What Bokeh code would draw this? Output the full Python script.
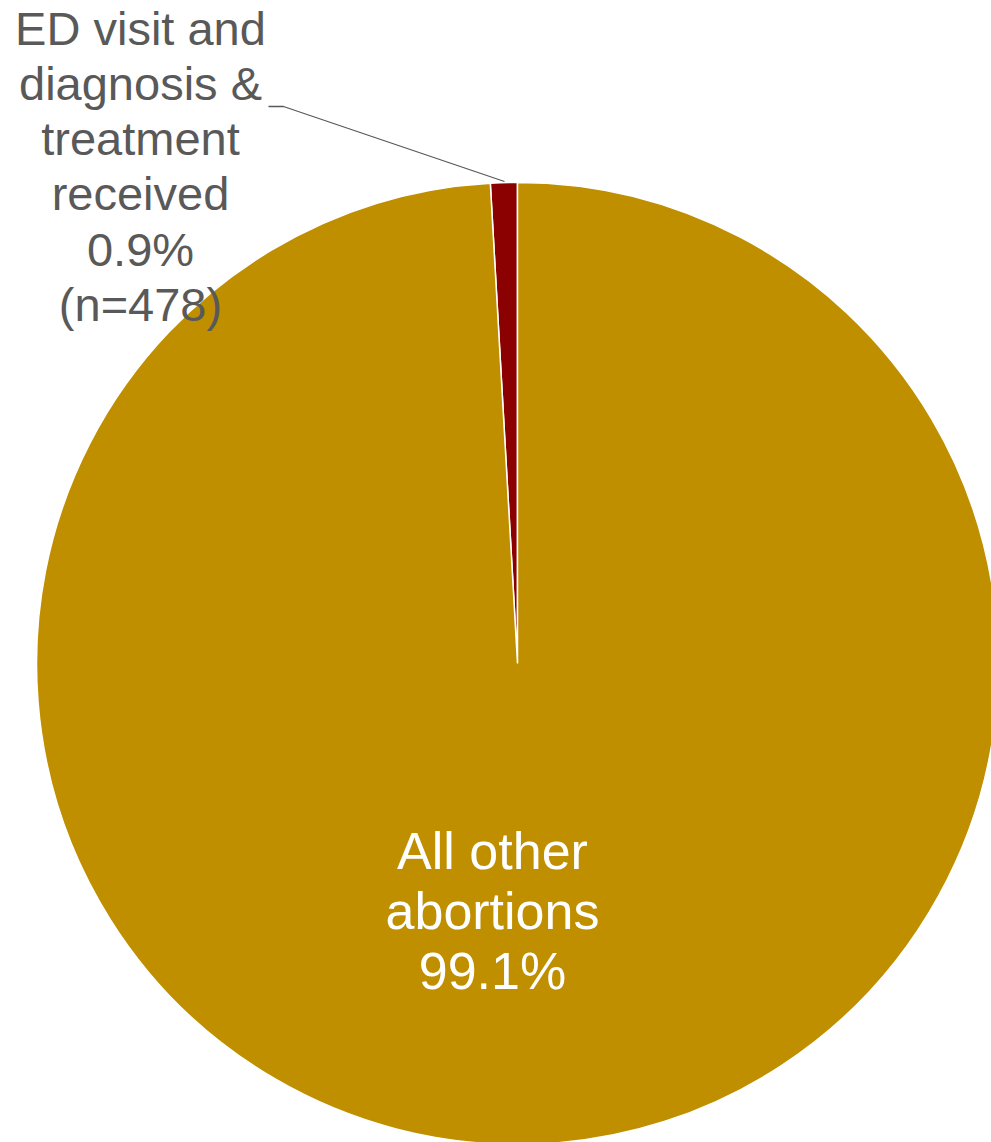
import numpy as np
from bokeh.plotting import figure
from bokeh.models import Range1d, ColumnDataSource
from bokeh.core.properties import value
from bokeh.embed import file_html
from bokeh.resources import INLINE

# ---- data ----
categories = ["ED visit and diagnosis & treatment received", "All other abortions"]
percents = [0.9, 99.1]
counts = ["(n=478)", None]
colors = ["#8B0000", "#BF8F00"]

W, H = 991, 1142
CX, CY = 517, 663          # pie centre in page pixels
R = 481                    # radius in pixels

# data coordinates: pie centre at (0, 0), 1 unit = 1 pixel, y up
p = figure(width=W, height=H, output_backend="svg", toolbar_location=None,
           x_range=Range1d(-CX, W - CX), y_range=Range1d(-(H - CY), CY),
           min_border=0, outline_line_color=None)
p.axis.visible = False
p.grid.visible = False
p.background_fill_color = "white"
p.border_fill_color = "white"

# angles: first slice (red) from top going anticlockwise, second fills rest
fr = np.array(percents) / 100.0
start = np.pi / 2 + np.concatenate([[0], np.cumsum(fr)[:-1]]) * 2 * np.pi
end = np.pi / 2 + np.cumsum(fr) * 2 * np.pi
src = ColumnDataSource(dict(start=start, end=end, color=colors))
p.wedge(x=0, y=0, radius=R, start_angle="start", end_angle="end",
        direction="anticlock", fill_color="color", line_color="white",
        line_width=1.5, source=src)

def py(y_px):
    return CY - y_px

def px(x_px):
    return x_px - CX

# leader line
p.line(x=[px(268), px(283), px(504)], y=[py(106), py(106), py(181)],
       line_color="#595959", line_width=1.3)

font = value("Liberation Sans")
outer_lines = ["ED visit and", "diagnosis &", "treatment", "received",
               f"{percents[0]}%", counts[0]]
outer_mid = [28, 83, 138, 193, 249, 304]
p.text(x=[px(140)] * len(outer_lines), y=[py(b) for b in outer_mid],
       text=outer_lines, text_font=font, text_font_size="47px",
       text_color="#595959", text_align="center", text_baseline="middle")

inner_lines = ["All other", "abortions", f"{percents[1]}%"]
inner_mid = [850, 910, 970]
p.text(x=[px(492)] * len(inner_lines), y=[py(b) for b in inner_mid],
       text=inner_lines, text_font=font, text_font_size="52px",
       text_color="white", text_align="center", text_baseline="middle")

open("out.html", "w").write(file_html(p, INLINE))
